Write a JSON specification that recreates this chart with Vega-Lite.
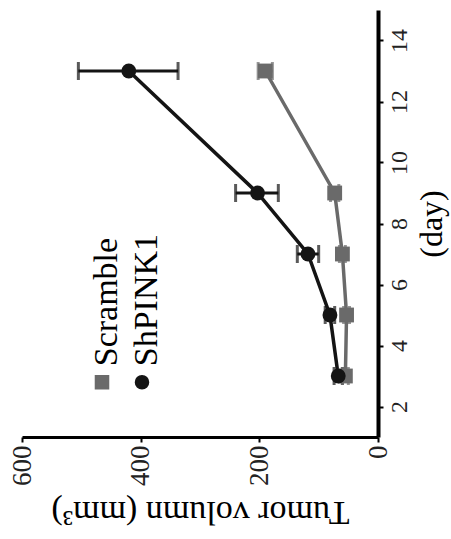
{
  "$schema": "https://vega.github.io/schema/vega-lite/v6.json",
  "width": 356,
  "height": 427,
  "autosize": {"type": "none"},
  "padding": {"left": 22, "top": 10, "right": 73, "bottom": 102},
  "background": "white",
  "config": {"view": {"stroke": null}, "font": "Liberation Serif"},
  "data": {
    "values": [
      {"series": "Scramble", "day": 3, "vol": 55, "lo": 50, "hi": 60},
      {"series": "Scramble", "day": 5, "vol": 53, "lo": 48, "hi": 58},
      {"series": "Scramble", "day": 7, "vol": 60, "lo": 55, "hi": 65},
      {"series": "Scramble", "day": 9, "vol": 73, "lo": 66, "hi": 80},
      {"series": "Scramble", "day": 13, "vol": 190, "lo": 178, "hi": 202},
      {"series": "ShPINK1", "day": 3, "vol": 67, "lo": 60, "hi": 74},
      {"series": "ShPINK1", "day": 5, "vol": 81, "lo": 73, "hi": 89},
      {"series": "ShPINK1", "day": 7, "vol": 118, "lo": 100, "hi": 136},
      {"series": "ShPINK1", "day": 9, "vol": 203, "lo": 168, "hi": 240},
      {"series": "ShPINK1", "day": 13, "vol": 420, "lo": 337, "hi": 505}
    ]
  },
  "encoding": {
    "y": {
      "field": "day", "type": "quantitative",
      "scale": {"domain": [1, 15], "nice": false, "zero": false},
      "axis": {
        "orient": "right", "values": [2, 4, 6, 8, 10, 12, 14], "grid": false,
        "labelAngle": -90, "labelFont": "Liberation Serif", "labelFontSize": 24, "labelColor": "#222",
        "domainColor": "black", "domainWidth": 4, "tickColor": "black", "tickWidth": 2, "tickSize": 5, "labelPadding": 4,
        "title": "(day)", "titleAngle": -90, "titleBaseline": "top", "titleFont": "Liberation Serif", "titleFontSize": 32, "titleFontWeight": "normal", "titleColor": "black", "titlePadding": 5
      }
    }
  },
  "layer": [
    {
      "mark": {"type": "rule", "strokeWidth": 3},
      "encoding": {
        "x": {"field": "lo", "type": "quantitative", "title": "Tumor volumn (mm³)", "scale": {"domain": [0, 600], "reverse": true, "nice": false}},
        "x2": {"field": "hi"},
        "color": {"field": "series", "type": "nominal", "scale": {"domain": ["Scramble", "ShPINK1"], "range": ["#6a6a6a", "#141414"]}}
      }
    },
    {
      "mark": {"type": "tick", "orient": "vertical", "thickness": 3, "size": 18},
      "encoding": {
        "x": {"field": "lo", "type": "quantitative", "title": "Tumor volumn (mm³)", "scale": {"domain": [0, 600], "reverse": true, "nice": false}},
        "color": {"field": "series", "type": "nominal", "scale": {"domain": ["Scramble", "ShPINK1"], "range": ["#6a6a6a", "#141414"]}}
      }
    },
    {
      "mark": {"type": "tick", "orient": "vertical", "thickness": 3, "size": 18},
      "encoding": {
        "x": {"field": "hi", "type": "quantitative", "title": "Tumor volumn (mm³)", "scale": {"domain": [0, 600], "reverse": true, "nice": false}},
        "color": {"field": "series", "type": "nominal", "scale": {"domain": ["Scramble", "ShPINK1"], "range": ["#6a6a6a", "#141414"]}}
      }
    },
    {
      "mark": {"type": "line", "strokeWidth": 3.5},
      "encoding": {
        "x": {
          "field": "vol", "type": "quantitative", "title": "Tumor volumn (mm³)",
          "scale": {"domain": [0, 600], "reverse": true, "nice": false},
          "axis": {
            "orient": "bottom", "values": [0, 200, 400, 600], "grid": false,
            "labelAngle": -90, "labelFont": "Liberation Serif", "labelFontSize": 27, "labelColor": "#222",
            "domainColor": "black", "domainWidth": 3, "tickColor": "black", "tickWidth": 2, "tickSize": 5, "labelPadding": 3,
            "titleAngle": 180, "titleBaseline": "bottom", "titleFont": "Liberation Serif", "titleFontSize": 34, "titleFontWeight": "normal", "titleColor": "black", "titlePadding": 9
          }
        },
        "order": {"field": "day", "type": "quantitative"},
        "color": {"field": "series", "type": "nominal", "scale": {"domain": ["Scramble", "ShPINK1"], "range": ["#6a6a6a", "#141414"]}}
      }
    },
    {
      "mark": {"type": "point", "filled": true, "size": 220, "opacity": 1},
      "encoding": {
        "x": {"field": "vol", "type": "quantitative", "title": "Tumor volumn (mm³)", "scale": {"domain": [0, 600], "reverse": true, "nice": false}},
        "color": {
          "field": "series", "type": "nominal",
          "scale": {"domain": ["Scramble", "ShPINK1"], "range": ["#6a6a6a", "#141414"]},
          "legend": {
            "title": null, "orient": "none", "legendX": 63, "legendY": 355, "direction": "horizontal", "columns": 2,
            "labelFont": "Liberation Serif", "labelFontSize": 34, "labelColor": "black", "labelOffset": -12, "labelLimit": 400,
            "columnPadding": 0, "symbolSize": 170,
            "encoding": {"labels": {"angle": {"value": -90}, "dx": {"value": 16}, "align": {"value": "left"}, "baseline": {"value": "middle"}}}
          }
        },
        "shape": {
          "field": "series", "type": "nominal",
          "scale": {"domain": ["Scramble", "ShPINK1"], "range": ["square", "circle"]},
          "legend": {
            "title": null, "orient": "none", "legendX": 63, "legendY": 355, "direction": "horizontal", "columns": 2,
            "labelFont": "Liberation Serif", "labelFontSize": 34, "labelColor": "black", "labelOffset": -12, "labelLimit": 400,
            "columnPadding": 0, "symbolSize": 170,
            "encoding": {"labels": {"angle": {"value": -90}, "dx": {"value": 16}, "align": {"value": "left"}, "baseline": {"value": "middle"}}}
          }
        }
      }
    }
  ]
}
